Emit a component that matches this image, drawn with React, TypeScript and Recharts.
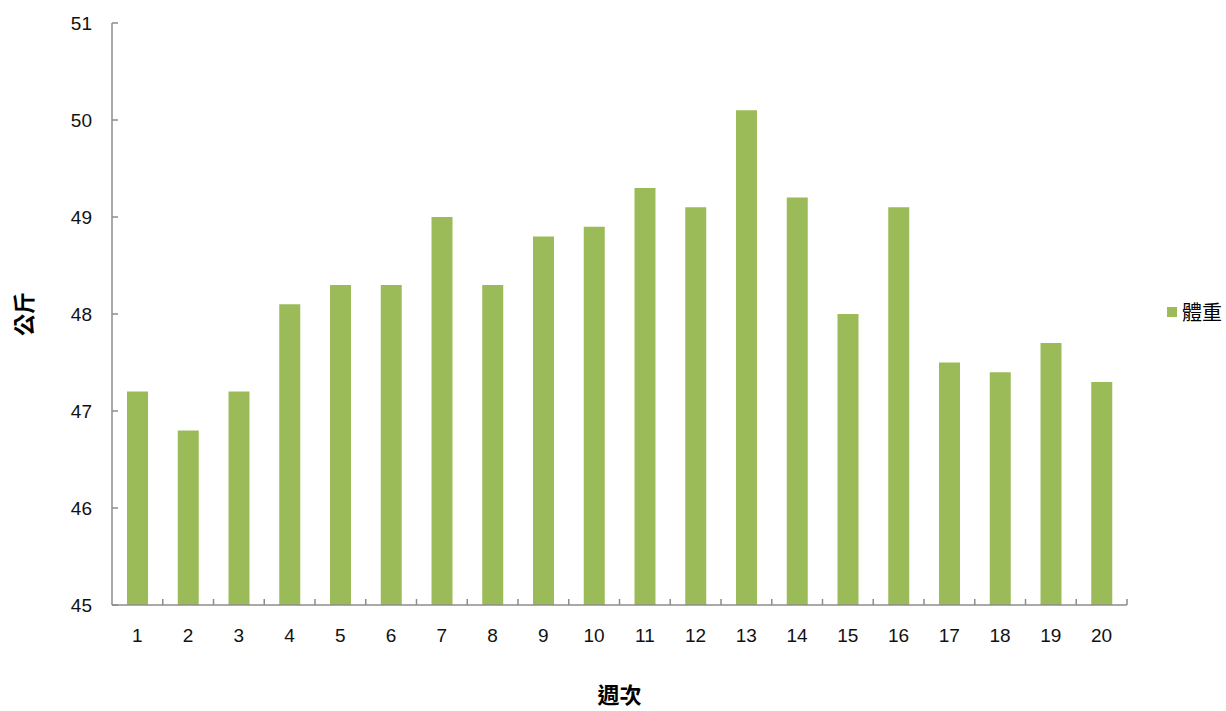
import React from "react";
import { BarChart, Bar, XAxis, YAxis, Legend } from "recharts";

// 週次 / 體重 (公斤)
const weeks = ["1", "2", "3", "4", "5", "6", "7", "8", "9", "10", "11", "12", "13", "14", "15", "16", "17", "18", "19", "20"];
const weights = [47.2, 46.8, 47.2, 48.1, 48.3, 48.3, 49.0, 48.3, 48.8, 48.9, 49.3, 49.1, 50.1, 49.2, 48.0, 49.1, 47.5, 47.4, 47.7, 47.3];
const yTicks = [45, 46, 47, 48, 49, 50, 51];

const data = weeks.map((w, i) => ({ week: w, 體重: weights[i] }));

const W = 1226;
const H = 711;
const LEFT = 112;
const RIGHT = 99;
const TOP = 23;
const BOTTOM = 106;
const BAND = (W - LEFT - RIGHT) / weeks.length;

const AXIS = "#8c8c8c";
const BAR = "#9bbb59";
const FONT = "'Liberation Sans', 'Noto Sans CJK TC', sans-serif";
const CJK = "'Noto Sans CJK TC', sans-serif";

const XTick = (props: any) => {
  const { x, y, payload } = props;
  const bx = x + BAND / 2;
  return (
    <g>
      <line x1={bx} x2={bx} y1={y - 6} y2={y} stroke={AXIS} strokeWidth={1.5} />
      <text x={x} y={y + 37} textAnchor="middle" fontSize={19} fontFamily={FONT} fill="#111">
        {payload.value}
      </text>
    </g>
  );
};

const renderLegend = () => (
  <div style={{ display: "flex", alignItems: "center", fontFamily: CJK, fontSize: 20, color: "#000" }}>
    <span style={{ width: 10, height: 10, background: BAR, display: "inline-block", marginRight: 5 }} />
    <span>體重</span>
  </div>
);

export default function App() {
  return (
    <div style={{ position: "absolute", left: 0, top: 0, background: "#fff" }}>
      <BarChart
        width={W}
        height={H}
        data={data}
        margin={{ top: TOP, right: RIGHT, left: 0, bottom: 0 }}
        barSize={21}
      >
        <XAxis
          dataKey="week"
          height={BOTTOM}
          stroke={AXIS}
          strokeWidth={1.5}
          tickLine={false}
          tickSize={0}
          tickMargin={0}
          tick={<XTick />}
          interval={0}
          label={(p: any) => {
            const vb = p.viewBox;
            return (
              <text x={vb.x + vb.width / 2} y={703} textAnchor="middle" fontSize={22} fontWeight="bold" fontFamily={CJK} fill="#000">
                週次
              </text>
            );
          }}
        />
        <YAxis
          width={LEFT}
          domain={[45, 51]}
          ticks={yTicks}
          interval={0}
          stroke={AXIS}
          strokeWidth={1.5}
          tickSize={-6}
          tickMargin={26}
          tick={{ fontSize: 19, fontFamily: FONT, fill: "#111" }}
          label={(p: any) => {
            const vb = p.viewBox;
            const cy = vb.y + vb.height / 2;
            return (
              <text x={22} y={cy} transform={`rotate(-90 22 ${cy})`} textAnchor="middle" dominantBaseline="central" fontSize={22} fontWeight="bold" fontFamily={CJK} fill="#000">
                公斤
              </text>
            );
          }}
        />
        <Legend
          layout="horizontal"
          verticalAlign="middle"
          align="center"
          content={renderLegend}
          wrapperStyle={{ left: 1167, top: 297, width: 70 }}
        />
        <Bar dataKey="體重" fill={BAR} isAnimationActive={false} />
      </BarChart>
    </div>
  );
}
